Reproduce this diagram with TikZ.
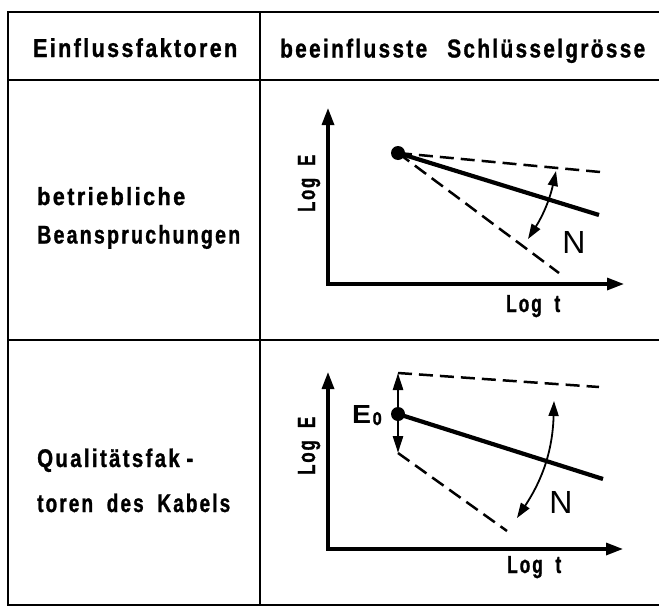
\documentclass[tikz,border=0pt]{standalone}
\usepackage{fontspec}
\usepackage{graphicx}
\setmainfont{Liberation Sans}[FakeStretch=0.62, LetterSpace=7, BoldFeatures={FakeBold=0.9}]
\newfontfamily\plainN{Liberation Sans}
\usetikzlibrary{arrows.meta}
\newcommand\fitto[3]{\resizebox{#1pt}{#2pt}{\bfseries #3}}
\newcommand\wsp{\hspace{0.45em}}
\begin{document}
\begin{tikzpicture}[x=1pt,y=-1pt,
  tbl/.style={line width=2.4pt},
  axes/.style={line width=3.2pt,{Triangle[length=17pt,width=12pt]}-{Triangle[length=17pt,width=12pt]}},
  dsh/.style={line width=2.5pt, dash pattern=on 14pt off 7pt},
  sld/.style={line width=4.2pt},
  dbl/.style={line width=1.8pt,{Triangle[length=15pt,width=10pt]}-{Triangle[length=15pt,width=10pt]}},
  vtip/.style={line width=2.6pt,-{Triangle[length=17pt,width=10pt]}},
  txt/.style={font=\fontsize{26}{30}\selectfont, inner sep=0pt, anchor=base west},
  axlbl/.style={font=\fontsize{24}{26}\selectfont, inner sep=0pt},
  bigN/.style={font=\plainN\fontsize{32}{32}\selectfont, inner sep=0pt},
  dot/.style={circle, fill=black, minimum size=14pt, inner sep=0pt}
]
\useasboundingbox (0,0) rectangle (659,608);
% table
\coordinate (tl) at (8,12);
\coordinate (tr) at (659,12);
\coordinate (bl) at (8,605);
\coordinate (br) at (659,605);
\coordinate (h1l) at (8,80);
\coordinate (h1r) at (659,80);
\coordinate (h2l) at (8,340);
\coordinate (h2r) at (659,340);
\coordinate (vt) at (260,12);
\coordinate (vb) at (260,605);
\draw[tbl] (tr) -- (tl) -- (bl) -- (br);
\draw[tbl] (h1l) -- (h1r);
\draw[tbl] (h2l) -- (h2r);
\draw[tbl] (vt) -- (vb);
% texts
\node[txt] (head1) at (33,57) {\fitto{204}{18.8}{Einflussfaktoren}};
\node[txt] (head2) at (280,57.5) {\fitto{365}{18.8}{beeinflusste\hspace{0.6em}Schlüsselgrösse}};
\node[txt] (r1a) at (37,205) {\fitto{148}{18}{betriebliche}};
\node[txt] (r1b) at (37,243.5) {\fitto{203}{18.5}{Beanspruchungen}};
\node[txt] (r2a) at (37,467) {\fitto{156}{18.5}{Qualitätsfak\hspace{0.2em}-}};
\node[txt] (r2b) at (37,512) {\fitto{193}{18.5}{toren\wsp des\wsp Kabels}};
% chart 1
\coordinate (o1) at (328,284);
\coordinate (y1) at (328,108);
\coordinate (x1) at (624,284);
\draw[axes] (y1) |- (x1);
\node[axlbl, rotate=90, anchor=base west] (le1) at (315,212) {\fitto{57}{17}{Log\wsp E}};
\node[axlbl, anchor=base west] (lt1) at (506,312) {\fitto{54}{17}{Log\wsp t}};
\node[dot] (d1) at (398,153) {};
\coordinate (u1) at (600,172);
\coordinate (s1) at (599,215);
\coordinate (l1) at (559,273);
\draw[dsh] (d1.center) -- (u1);
\draw[sld] (d1.center) -- (s1);
\draw[dsh] (d1.center) -- (l1);
\coordinate (a1t) at (556,171);
\coordinate (a1b) at (528,239);
\draw[dbl] (a1t) to[bend left=10] (a1b);
\node[bigN, anchor=base] (n1) at (574,253) {N};
% chart 2
\coordinate (o2) at (328,549);
\coordinate (y2) at (328,372);
\coordinate (x2) at (623,549);
\draw[axes] (y2) |- (x2);
\node[axlbl, rotate=90, anchor=base west] (le2) at (315,475) {\fitto{58}{17}{Log\wsp E}};
\node[axlbl, anchor=base west] (lt2) at (507,573) {\fitto{54}{17}{Log\wsp t}};
\node[dot] (d2) at (398,414) {};
\coordinate (vt2) at (398,373);
\coordinate (vb2) at (398,453);
\draw[vtip] (d2.center) -- (vt2);
\draw[vtip] (d2.center) -- (vb2);
\coordinate (u2) at (599,387);
\coordinate (s2) at (603,479);
\coordinate (l2) at (507,531);
\draw[dsh] (vt2) -- (u2);
\draw[sld] (d2.center) -- (s2);
\draw[dsh] (vb2) -- (l2);
\node[inner sep=0pt, anchor=base west] (e0) at (352,423) {\resizebox{19pt}{18pt}{\plainN\bfseries E}\kern1.5pt\raisebox{-2pt}{\fitto{9}{13}{o}}};
\coordinate (a2t) at (554,401);
\coordinate (a2b) at (517,518);
\draw[dbl] (a2t) to[bend left=16] (a2b);
\node[bigN, anchor=base] (n2) at (561,513) {N};
\end{tikzpicture}
\end{document}
